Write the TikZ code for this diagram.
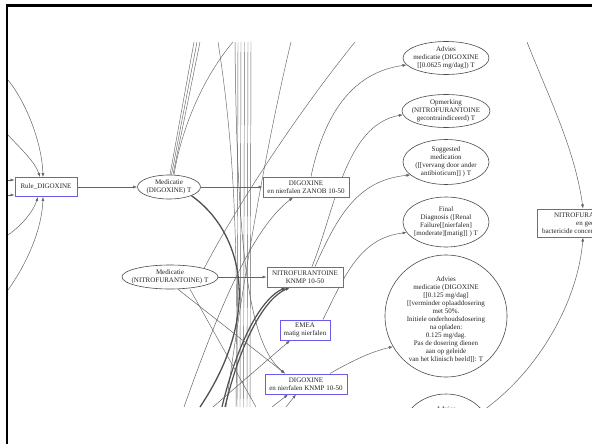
\documentclass[tikz,border=0pt]{standalone}
\usepackage{fontspec}
\setmainfont{Liberation Serif}
\usetikzlibrary{arrows.meta,shapes.geometric}
\pgfdeclarelayer{background}
\pgfsetlayers{background,main}
\definecolor{boxblue}{RGB}{105,92,235}
\definecolor{edgegray}{RGB}{100,100,100}
\begin{document}
\begin{tikzpicture}[x=1pt,y=-1pt,
  lbl/.style={font=\fontsize{7}{8}\selectfont, align=center, inner sep=0pt, text=black!85},
  rbox/.style={font=\fontsize{7}{8}\selectfont, align=center, text=black!85, draw=boxblue, line width=1pt, rectangle, inner sep=1pt, fill=white},
  ellshape/.style={draw=black!70, line width=0.6pt, ellipse, inner sep=0pt, fill=white},
  edge/.style={draw=edgegray, line width=0.5pt, -{Latex[length=4pt,width=3pt]}},
  thickedge/.style={draw=edgegray!80!black, line width=1.2pt, -{Latex[length=4.5pt,width=3.5pt]}},
  plain/.style={draw=edgegray, line width=0.45pt},
]
\useasboundingbox (0,0) rectangle (592,444);
\begin{scope}
\clip (8,42) rectangle (592,407);
% ---------- nodes ----------
\node[rbox, minimum width=62, minimum height=19] (rule) at (46,187) {Rule\_DIGOXINE};
\node[ellshape, minimum width=63, minimum height=24] (medD) at (169,187) {};
\node[lbl] (medDt) at (medD) {Medicatie\\(DIGOXINE) T};
\node[rbox, minimum width=86, minimum height=20] (zanob) at (306,187) {DIGOXINE\\en nierfalen ZANOB 10-50};
\node[ellshape, minimum width=96, minimum height=24] (medN) at (170,277) {};
\node[lbl] (medNt) at (medN) {Medicatie\\(NITROFURANTOINE) T};
\node[rbox, minimum width=76, minimum height=20] (knmpN) at (305,277) {NITROFURANTOINE\\KNMP 10-50};
\node[rbox, minimum width=50, minimum height=20] (emea) at (305,330) {EMEA\\matig nierfalen};
\node[rbox, minimum width=82, minimum height=20] (knmpD) at (306,384) {DIGOXINE\\en nierfalen KNMP 10-50};

\node[ellshape, minimum width=86, minimum height=33] (adv1) at (446,58) {};
\node[lbl] (adv1t) at (adv1) {Advies\\medicatie (DIGOXINE\\{}[[0.0625 mg/dag]) T};
\node[ellshape, minimum width=88, minimum height=33] (opm) at (446,111) {};
\node[lbl] (opmt) at (opm) {Opmerking\\(NITROFURANTOINE\\gecontraindiceerd) T};
\node[ellshape, minimum width=86, minimum height=45] (sugg) at (446,162) {};
\node[lbl] (suggt) at (sugg) {Suggested\\medication\\([[vervang door ander\\antibioticum]] ) T};
\node[ellshape, minimum width=86, minimum height=50] (final) at (446,222) {};
\node[lbl] (finalt) at (final) {Final\\Diagnosis ([Renal\\Failure[[nierfalen]\\{}[moderate][matig]] ) T};
\node[ellshape, circle, minimum size=122] (adv2) at (446,316) {};
\node[lbl] (adv2t) at (446,320) {Advies\\medicatie (DIGOXINE\\{}[[0.125 mg/dag]\\{}[[verminder oplaaddosering\\met 50\%.\\Initiele onderhoudsdosering\\na opladen:\\0.125 mg/dag.\\Pas de dosering dienen\\aan op geleide\\van het klinisch beeld]]: T};
\node[ellshape, minimum width=88, minimum height=76] (adv3) at (446,432) {};
\node[lbl, anchor=north] (adv3t) at (446,406.3) {Advies};
\node[rbox, minimum width=100, minimum height=28] (nitroR) at (587,223) {NITROFURANTOINE\\en geen\\bactericide concentratie in urine};
\end{scope}

% ---------- free ends ----------
\coordinate (l1) at (8,80);
\coordinate (l2) at (8,135);
\coordinate (l3) at (8,235);
\coordinate (l4) at (8,290);
\coordinate (l5) at (8,180);
\coordinate (l6) at (8,195);
\coordinate (t1) at (194,42);
\coordinate (t2) at (197,42);
\coordinate (t3) at (200,42);
\coordinate (t4) at (233,42);
\coordinate (t5) at (218,42);
\coordinate (b5) at (236,407);
\coordinate (t6) at (291,42);
\coordinate (b6) at (226,407);
\coordinate (t7) at (355,42);
\coordinate (b7) at (200,407);
\coordinate (b7b) at (222,407);
\coordinate (b8) at (184,407);
\coordinate (b9) at (256,407);
\coordinate (t9) at (235,42);
\coordinate (b10) at (213,407);
\coordinate (b11) at (272,407);
\coordinate (b12) at (286,407);
\coordinate (t12) at (527,42);
\foreach \i/\xt/\xb in {1/238/237,2/241/240,3/244.5/243.5,4/248/247,5/251/250}{
  \coordinate (vt\i) at (\xt,42);
  \coordinate (vb\i) at (\xb,407);
}

\begin{pgfonlayer}{background}
\fill[white] (0,0) rectangle (592,444);
\begin{scope}
\clip (8,42) rectangle (592,407);
% left group into Rule_DIGOXINE
\draw[edge] (l1) .. controls (28,105) and (42,145) .. ([xshift=-3]rule.north);
\draw[edge] (l2) .. controls (22,150) and (35,162) .. ([xshift=-6]rule.north);
\draw[edge] (l3) .. controls (22,225) and (33,212) .. ([xshift=-8]rule.south);
\draw[edge] (l4) .. controls (28,262) and (42,228) .. ([xshift=-3]rule.south);
\draw[edge] (l5) -- (rule.west |- l5);
\draw[edge] (l6) -- (rule.west |- l6);
\draw[edge] (rule) -- (medD);
\draw[edge] (medD) -- (zanob);
\draw[edge] (medN) -- (knmpN);

% upward lines from Medicatie (DIGOXINE)
\draw[plain] ([xshift=1]medD.north) -- (t1);
\draw[plain] ([xshift=2.5]medD.north) -- (t2);
\draw[plain] ([xshift=4]medD.north) -- (t3);
\draw[plain] ([xshift=5]medD.north) .. controls (182,125) and (205,75) .. (t4);

% vertical bundle
\foreach \i in {1,...,5}{ \draw[plain] (vt\i) -- (vb\i); }
\draw[plain] (t5) .. controls (235,150) and (238,250) .. (b5);
\draw[plain] (t6) .. controls (265,150) and (240,300) .. (b6);
\draw[plain] (medN.north east) .. controls (240,200) and (300,110) .. (t7);

% thick curves
\draw[draw=edgegray!80!black, line width=1.3pt] (medD.south east) .. controls (240,230) and (265,310) .. (b7);
\draw[thickedge] (b7b) .. controls (238,340) and (262,298) .. ([xshift=-19]knmpN.south);
\draw[thickedge] ([xshift=3]b7b) .. controls (241,340) and (265,298) .. ([xshift=-15]knmpN.south);

% into lower nodes
\draw[edge] (b8) .. controls (215,320) and (250,230) .. ([xshift=-13]zanob.south);
\draw[edge] ([xshift=8]medN.south) -- ([xshift=-21]knmpD.north);
\draw[plain] ([xshift=20]medN.south) -- (b9);
\draw[edge] (t9) .. controls (237,260) and (250,345) .. ([xshift=-21]knmpD.north);
\draw[edge] (b10) -- ([xshift=-15]emea.south);
\draw[edge] (b11) -- ([xshift=-18]knmpD.south);
\draw[edge] (b12) -- ([xshift=-10]knmpD.south);

% right column
\draw[edge] ([xshift=5]zanob.north) .. controls (325,110) and (355,72) .. (adv1.190);
\draw[edge] ([xshift=7]knmpN.north) .. controls (335,210) and (345,125) .. (opm.185);
\draw[edge] ([xshift=10]knmpN.north) .. controls (338,215) and (358,180) .. (sugg.200);
\draw[edge] ([xshift=18]emea.north) .. controls (345,275) and (360,238) .. (final.195);
\draw[edge] ([xshift=24]knmpD.north) .. controls (350,362) and (370,352) .. (adv2.210);
\draw[edge] (adv3.30) .. controls (540,370) and (578,300) .. ([xshift=-4]nitroR.south);
\draw[edge] (t12) .. controls (550,100) and (575,150) .. ([xshift=-4]nitroR.north);
\end{scope}
\end{pgfonlayer}
% slide frame
\draw[line width=2.5pt] (7,444) -- (7,5.5) -- (592,5.5);
\end{tikzpicture}
\end{document}
